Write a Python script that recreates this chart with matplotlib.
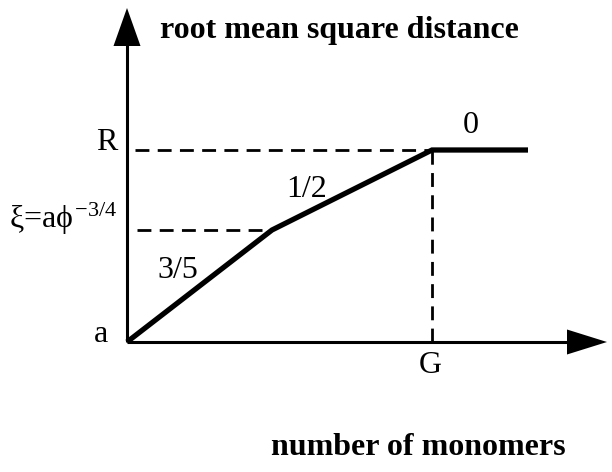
import matplotlib
matplotlib.use("Agg")
import matplotlib.pyplot as plt
from matplotlib.patches import FancyArrow

# Data (in pixel-like units relative to origin)
curve_x = [0, 145, 305, 401]
curve_y = [0, 112, 192, 192]
slope_labels = ["3/5", "1/2", "0"]
slope_label_x = [51, 180, 344]
slope_label_y = [64, 145, 209]
y_tick_labels = ["a", r"$\xi$=a$\phi^{-3/4}$", "R"]
x_tick_labels = ["G"]
y_title = "root mean square distance"
x_title = "number of monomers"

plt.rcParams['font.family'] = ['Liberation Serif', 'DejaVu Serif']
plt.rcParams['mathtext.fontset'] = 'custom'
plt.rcParams['mathtext.rm'] = 'Liberation Serif'
plt.rcParams['mathtext.it'] = 'Liberation Serif'

fig = plt.figure(figsize=(6.12, 4.72), dpi=100)
ax = fig.add_axes([0, 0, 1, 1])
ax.set_xlim(-127, 485)
ax.set_ylim(-130, 342)
ax.axis('off')

# axes with arrows
ax.plot([0, 445], [0, 0], color='black', lw=2.2, solid_capstyle='butt')
ax.plot([0, 0], [0, 300], color='black', lw=2.2, solid_capstyle='butt')
ax.add_patch(FancyArrow(440, 0, 40, 0, width=0, head_width=25, head_length=40,
                        length_includes_head=True, color='black', lw=0))
ax.add_patch(FancyArrow(0, 295, 0, 39, width=0, head_width=27, head_length=38,
                        length_includes_head=True, color='black', lw=0))

# dashed guides
ax.plot([8, curve_x[2]], [curve_y[2], curve_y[2]], color='black', lw=2, ls=(0, (5, 3)))
ax.plot([10, curve_x[1]], [curve_y[1], curve_y[1]], color='black', lw=2, ls=(0, (5, 3)))
ax.plot([curve_x[2], curve_x[2]], [0, curve_y[2]], color='black', lw=2, ls=(0, (5, 3)))

# curve
ax.plot(curve_x, curve_y, color='black', lw=3.8, solid_joinstyle='miter', solid_capstyle='butt')

fs = 23
for t, x, y in zip(slope_labels, slope_label_x, slope_label_y):
    ax.text(x, y, t, fontsize=fs, ha='center', va='baseline')

ax.text(-10, 192, y_tick_labels[2], fontsize=fs, ha='right', va='baseline')
ax.text(-10, 114, y_tick_labels[1], fontsize=fs, ha='right', va='baseline')
ax.text(-19, 0, y_tick_labels[0], fontsize=fs, ha='right', va='baseline')
ax.text(curve_x[2] - 1.5, -31, x_tick_labels[0], fontsize=fs, ha='center', va='baseline')

ax.text(33, 304, y_title, fontsize=23, fontweight='bold', ha='left', va='baseline')
ax.text(291, -113, x_title, fontsize=23, fontweight='bold', ha='center', va='baseline')

fig.savefig('out.png', dpi=100)
